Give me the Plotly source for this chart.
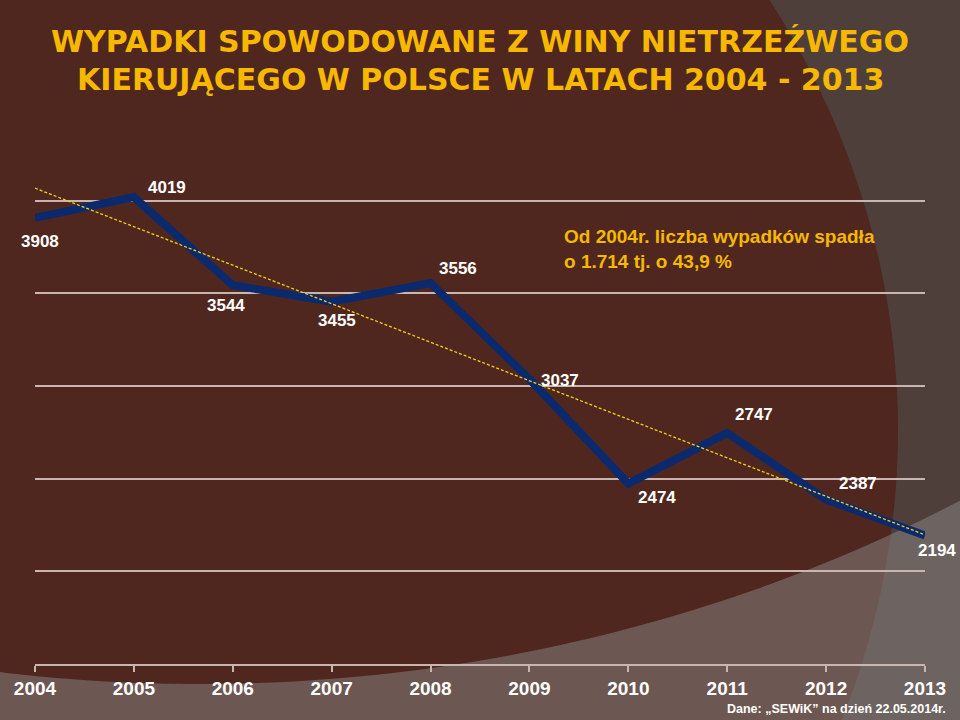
import numpy as np
import plotly.graph_objects as go

# ---------------- data ----------------
years = [2004, 2005, 2006, 2007, 2008, 2009, 2010, 2011, 2012, 2013]
accidents = [3908, 4019, 3544, 3455, 3556, 3037, 2474, 2747, 2387, 2194]
tick_labels = [str(y) for y in years]
title_lines = ["WYPADKI SPOWODOWANE Z WINY NIETRZEŹWEGO",
               "KIERUJĄCEGO W POLSCE W LATACH 2004 - 2013"]
note_text = "Od 2004r. liczba wypadków spadła<br>o 1.714 tj. o 43,9 %"
source_text = "Dane: „SEWiK” na dzień 22.05.2014r."

# ---------------- style ----------------
W, H = 960, 720
ML, MR, MT, MB = 35, 35, 108, 56
PW, PH = W - ML - MR, H - MT - MB
GOLD = "#f6b800"
BROWN = "#4f271f"
SIDE = "#4f3f3b"
GRID = "#c9b6b0"
LINE_BLUE = "#0b2a6e"
# label offsets (px) relative to each point: (dx, dy up)
label_offsets = [(5, -24), (33, 10), (-7, -20), (5, -19), (27, 14),
                 (31, -1), (29, -14), (27, 18), (32, 16), (12, -15)]


def px_to_paper(px, py):
    return (np.asarray(px) - ML) / PW, (H - MB - np.asarray(py)) / PH


# linear trend (least squares) from the data
xi = np.arange(len(years))
slope, icpt = np.polyfit(xi, accidents, 1)
trend = icpt + slope * xi

fig = go.Figure()
fig.add_trace(go.Scatter(x=years, y=accidents, mode="lines",
                         line=dict(color=LINE_BLUE, width=8),
                         hoverinfo="skip", showlegend=False))
fig.add_trace(go.Scatter(x=years, y=trend, mode="lines",
                         line=dict(color="#f2d21a", width=1.3, dash="3px,2px"),
                         hoverinfo="skip", showlegend=False))

# background shapes
shapes = []
ex0, ey0 = px_to_paper(-1102, -447)
ex1, ey1 = px_to_paper(898, 1307)
shapes.append(dict(type="circle", xref="paper", yref="paper",
                   x0=float(ex0), x1=float(ex1), y0=float(ey0), y1=float(ey1),
                   fillcolor=BROWN, line=dict(width=0), layer="below"))
xs = np.linspace(-10, 970, 60)
ys = -646 + 1330 * np.sqrt(1 - ((xs - 200) / 1500.0) ** 2)
pxs, pys = px_to_paper(xs, ys)
bx0, by0 = px_to_paper(-10, 730)
bx1, by1 = px_to_paper(970, 730)
path = "M{:.4f},{:.4f} ".format(bx0, by0)
path += " ".join("L{:.4f},{:.4f}".format(a, b) for a, b in zip(pxs, pys))
path += " L{:.4f},{:.4f} Z".format(bx1, by1)
shapes.append(dict(type="path", xref="paper", yref="paper", path=path,
                   fillcolor="rgba(140,135,133,0.5)", line=dict(width=0),
                   layer="below"))

annotations = []
for yr, v, (dx, dy) in zip(years, accidents, label_offsets):
    annotations.append(dict(x=yr, y=v, xref="x", yref="y", text=str(v),
                            showarrow=False, xshift=dx, yshift=dy,
                            font=dict(family="Liberation Sans", size=17,
                                      color="white", weight="bold")))
for txt, py in zip(title_lines, [41, 79]):
    tx, ty = px_to_paper(480, py)
    annotations.append(dict(x=float(tx), y=float(ty), xref="paper", yref="paper",
                            text=txt, showarrow=False, xanchor="center",
                            yanchor="middle",
                            font=dict(family="DejaVu Sans", size=30,
                                      color=GOLD, weight="bold")))
nx, ny = px_to_paper(562, 224)
annotations.append(dict(x=float(nx), y=float(ny), xref="paper", yref="paper",
                        text=note_text, showarrow=False, xanchor="left",
                        yanchor="top", align="left",
                        font=dict(family="Liberation Sans", size=19,
                                  color=GOLD, weight="bold")))
sx, sy = px_to_paper(948, 709)
annotations.append(dict(x=float(sx), y=float(sy), xref="paper", yref="paper",
                        text=source_text, showarrow=False, xanchor="right",
                        yanchor="middle",
                        font=dict(family="Liberation Sans", size=12.5,
                                  color="white", weight="bold")))

fig.update_layout(
    width=W, height=H,
    margin=dict(l=ML, r=MR, t=MT, b=MB, pad=0),
    paper_bgcolor=SIDE, plot_bgcolor="rgba(0,0,0,0)",
    shapes=shapes, annotations=annotations, showlegend=False,
    xaxis=dict(range=[2004, 2013], tickmode="array", tickvals=years,
               ticktext=tick_labels, showgrid=False, zeroline=False,
               showline=True, linecolor=GRID, linewidth=1.5,
               ticks="outside", ticklen=6, tickcolor=GRID, tickwidth=1.5,
               tickfont=dict(family="Liberation Sans", size=19, color="white",
                             weight="bold")),
    yaxis=dict(range=[1500, 4500], dtick=500, tick0=1500, showticklabels=False,
               showgrid=True, gridcolor=GRID, gridwidth=1.5, zeroline=False,
               showline=False, ticks=""),
)

fig.write_html("out.html",
               config={"displayModeBar": False},
               post_script="document.body.style.margin='0';"
                           "document.body.style.padding='0';"
                           "document.body.style.overflow='hidden';")
